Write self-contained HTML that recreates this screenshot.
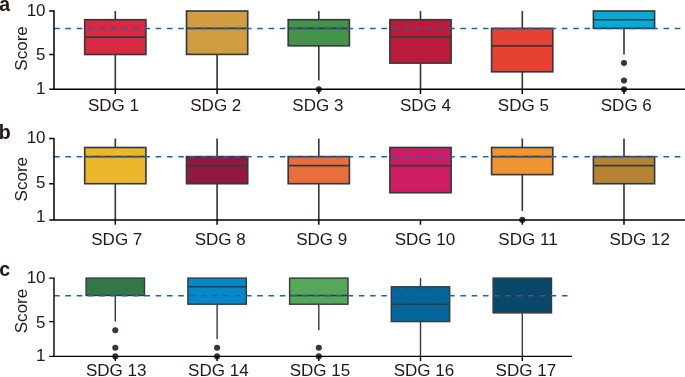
<!DOCTYPE html>
<html><head><meta charset="utf-8"><title>SDG scores</title>
<style>html,body{margin:0;padding:0;background:#fff}svg{display:block}text{font-family:"Liberation Sans",sans-serif;fill:#231815}.t{font-size:17.05px}.p{font-size:19.5px;font-weight:bold}.bx{stroke:#363a3e;stroke-width:var(--sw)}.ln{stroke:#363a3e;stroke-width:var(--sw);fill:none}.ax{stroke:#000;stroke-width:var(--aw);fill:none}.d{stroke:#2060b0;stroke-width:1.6;stroke-dasharray:5.6 5.685;fill:none}.o{fill:#33383d}</style></head><body>
<svg width="685" height="377" viewBox="0 0 685 377">
<rect width="685" height="377" fill="#fff"/>
<g style="--sw:1.65;--aw:1.5">
<text class="p" x="-0.7" y="10.9">a</text>
<line class="ln" x1="115.3" x2="115.3" y1="54.4" y2="89.2"/>
<line class="ln" x1="115.3" x2="115.3" y1="19.7" y2="11.0"/>
<rect class="bx" x="84.7" y="19.7" width="61.2" height="34.8" fill="#d92841"/>
<line class="ln" x1="84.7" x2="146.0" y1="37.1" y2="37.1"/>
<line class="ln" x1="217.1" x2="217.1" y1="54.4" y2="89.2"/>
<rect class="bx" x="186.5" y="11.0" width="61.2" height="43.4" fill="#d09e40"/>
<line class="ln" x1="186.5" x2="247.7" y1="28.4" y2="28.4"/>
<line class="ln" x1="318.8" x2="318.8" y1="45.8" y2="80.5"/>
<line class="ln" x1="318.8" x2="318.8" y1="19.7" y2="11.0"/>
<rect class="bx" x="288.2" y="19.7" width="61.2" height="26.1" fill="#449348"/>
<line class="ln" x1="288.2" x2="349.4" y1="28.4" y2="28.4"/>
<line class="ln" x1="420.5" x2="420.5" y1="63.1" y2="89.2"/>
<line class="ln" x1="420.5" x2="420.5" y1="19.7" y2="11.0"/>
<rect class="bx" x="389.9" y="19.7" width="61.2" height="43.4" fill="#bb1b38"/>
<line class="ln" x1="389.9" x2="451.2" y1="37.1" y2="37.1"/>
<line class="ln" x1="522.3" x2="522.3" y1="71.8" y2="89.2"/>
<line class="ln" x1="522.3" x2="522.3" y1="28.4" y2="11.0"/>
<rect class="bx" x="491.6" y="28.4" width="61.2" height="43.4" fill="#e84033"/>
<line class="ln" x1="491.6" x2="552.9" y1="45.8" y2="45.8"/>
<line class="ln" x1="624.0" x2="624.0" y1="28.4" y2="54.4"/>
<rect class="bx" x="593.4" y="11.0" width="61.2" height="17.4" fill="#00abd6"/>
<line class="ln" x1="593.4" x2="654.6" y1="19.7" y2="19.7"/>
<line class="d" x1="54.1" x2="685.0" y1="28.53" y2="28.53"/>
<circle class="o" cx="318.8" cy="89.2" r="3.05"/>
<circle class="o" cx="624.0" cy="63.1" r="3.05"/>
<circle class="o" cx="624.0" cy="80.5" r="3.05"/>
<circle class="o" cx="624.0" cy="89.2" r="3.05"/>
<path class="ax" d="M49.2 11.0H54V89.2H685.0M49.2 54.4H54M49.2 89.2H54.6"/>
<line class="ax" x1="115.3" x2="115.3" y1="89.2" y2="94.0"/>
<line class="ax" x1="217.1" x2="217.1" y1="89.2" y2="94.0"/>
<line class="ax" x1="318.8" x2="318.8" y1="89.2" y2="94.0"/>
<line class="ax" x1="420.5" x2="420.5" y1="89.2" y2="94.0"/>
<line class="ax" x1="522.3" x2="522.3" y1="89.2" y2="94.0"/>
<line class="ax" x1="624.0" x2="624.0" y1="89.2" y2="94.0"/>
<text class="t" x="45.6" y="15.6" text-anchor="end">10</text>
<text class="t" x="45.6" y="60.1" text-anchor="end">5</text>
<text class="t" x="45.6" y="93.6" text-anchor="end">1</text>
<text class="t" transform="translate(27.0 48.4) rotate(-90)" text-anchor="middle">Score</text>
<text class="t" x="113.5" y="110.9" text-anchor="middle">SDG 1</text>
<text class="t" x="215.8" y="110.9" text-anchor="middle">SDG 2</text>
<text class="t" x="317.9" y="110.9" text-anchor="middle">SDG 3</text>
<text class="t" x="425.5" y="110.9" text-anchor="middle">SDG 4</text>
<text class="t" x="523.4" y="110.9" text-anchor="middle">SDG 5</text>
<text class="t" x="626.3" y="110.9" text-anchor="middle">SDG 6</text>
</g>
<g style="--sw:1.65;--aw:1.5">
<text class="p" x="-1.3" y="138.5">b</text>
<line class="ln" x1="115.3" x2="115.3" y1="183.7" y2="219.9"/>
<line class="ln" x1="115.3" x2="115.3" y1="147.5" y2="138.5"/>
<rect class="bx" x="84.7" y="147.5" width="61.2" height="36.2" fill="#ecb82b"/>
<line class="ln" x1="84.7" x2="146.0" y1="156.6" y2="156.6"/>
<line class="ln" x1="217.1" x2="217.1" y1="183.7" y2="219.9"/>
<line class="ln" x1="217.1" x2="217.1" y1="156.6" y2="138.5"/>
<rect class="bx" x="186.5" y="156.6" width="61.2" height="27.1" fill="#921842"/>
<line class="ln" x1="186.5" x2="247.7" y1="165.6" y2="165.6"/>
<line class="ln" x1="318.8" x2="318.8" y1="183.7" y2="219.9"/>
<line class="ln" x1="318.8" x2="318.8" y1="156.6" y2="138.5"/>
<rect class="bx" x="288.2" y="156.6" width="61.2" height="27.1" fill="#ea6e3a"/>
<line class="ln" x1="288.2" x2="349.4" y1="165.6" y2="165.6"/>
<rect class="bx" x="389.9" y="147.5" width="61.2" height="45.2" fill="#ce1c63"/>
<line class="ln" x1="389.9" x2="451.2" y1="165.6" y2="165.6"/>
<line class="ln" x1="522.3" x2="522.3" y1="174.7" y2="210.9"/>
<line class="ln" x1="522.3" x2="522.3" y1="147.5" y2="138.5"/>
<rect class="bx" x="491.6" y="147.5" width="61.2" height="27.1" fill="#ee9430"/>
<line class="ln" x1="491.6" x2="552.9" y1="156.6" y2="156.6"/>
<line class="ln" x1="624.0" x2="624.0" y1="183.7" y2="219.9"/>
<line class="ln" x1="624.0" x2="624.0" y1="156.6" y2="138.5"/>
<rect class="bx" x="593.4" y="156.6" width="61.2" height="27.1" fill="#b48434"/>
<line class="ln" x1="593.4" x2="654.6" y1="165.6" y2="165.6"/>
<line class="d" x1="54.1" x2="685.0" y1="156.74" y2="156.74"/>
<circle class="o" cx="522.3" cy="219.9" r="3.05"/>
<path class="ax" d="M49.2 138.5H54V219.9H685.0M49.2 183.7H54M49.2 219.9H54.6"/>
<line class="ax" x1="115.3" x2="115.3" y1="219.9" y2="224.7"/>
<line class="ax" x1="217.1" x2="217.1" y1="219.9" y2="224.7"/>
<line class="ax" x1="318.8" x2="318.8" y1="219.9" y2="224.7"/>
<line class="ax" x1="420.5" x2="420.5" y1="219.9" y2="224.7"/>
<line class="ax" x1="522.3" x2="522.3" y1="219.9" y2="224.7"/>
<line class="ax" x1="624.0" x2="624.0" y1="219.9" y2="224.7"/>
<text class="t" x="45.6" y="143.0" text-anchor="end">10</text>
<text class="t" x="45.6" y="187.6" text-anchor="end">5</text>
<text class="t" x="45.6" y="222.2" text-anchor="end">1</text>
<text class="t" transform="translate(26.6 179.2) rotate(-90)" text-anchor="middle">Score</text>
<text class="t" x="116.8" y="244.9" text-anchor="middle">SDG 7</text>
<text class="t" x="220.2" y="244.9" text-anchor="middle">SDG 8</text>
<text class="t" x="321.7" y="244.9" text-anchor="middle">SDG 9</text>
<text class="t" x="425.0" y="244.9" text-anchor="middle">SDG 10</text>
<text class="t" x="528.0" y="244.9" text-anchor="middle">SDG 11</text>
<text class="t" x="639.7" y="244.9" text-anchor="middle">SDG 12</text>
</g>
<g style="--sw:1.4;--aw:1.4">
<text class="p" x="-0.7" y="275.8">c</text>
<line class="ln" x1="115.3" x2="115.3" y1="295.5" y2="321.6"/>
<rect class="bx" x="86.1" y="278.1" width="58.4" height="17.4" fill="#337846"/>
<line class="ln" x1="217.1" x2="217.1" y1="304.2" y2="339.0"/>
<rect class="bx" x="187.9" y="278.1" width="58.4" height="26.1" fill="#0488ca"/>
<line class="ln" x1="187.9" x2="246.3" y1="286.8" y2="286.8"/>
<line class="ln" x1="318.8" x2="318.8" y1="304.2" y2="330.3"/>
<rect class="bx" x="289.6" y="278.1" width="58.4" height="26.1" fill="#54a858"/>
<line class="ln" x1="289.6" x2="348.0" y1="295.5" y2="295.5"/>
<line class="ln" x1="420.5" x2="420.5" y1="321.6" y2="356.4"/>
<line class="ln" x1="420.5" x2="420.5" y1="286.8" y2="278.1"/>
<rect class="bx" x="391.3" y="286.8" width="58.4" height="34.8" fill="#036598"/>
<line class="ln" x1="391.3" x2="449.7" y1="304.2" y2="304.2"/>
<line class="ln" x1="522.3" x2="522.3" y1="312.9" y2="356.4"/>
<rect class="bx" x="493.1" y="278.1" width="58.4" height="34.8" fill="#0a4869"/>
<line class="ln" x1="493.1" x2="551.5" y1="295.5" y2="295.5"/>
<line class="d" x1="54.1" x2="568.2" y1="295.68" y2="295.68"/>
<circle class="o" cx="115.3" cy="330.3" r="3.05"/>
<circle class="o" cx="115.3" cy="347.7" r="3.05"/>
<circle class="o" cx="115.3" cy="356.4" r="3.05"/>
<circle class="o" cx="217.1" cy="347.7" r="3.05"/>
<circle class="o" cx="217.1" cy="356.4" r="3.05"/>
<circle class="o" cx="318.8" cy="347.7" r="3.05"/>
<circle class="o" cx="318.8" cy="356.4" r="3.05"/>
<path class="ax" d="M49.2 278.1H54V356.4H572.0M49.2 321.6H54M49.2 356.4H54.6"/>
<line class="ax" x1="115.3" x2="115.3" y1="356.4" y2="361.1"/>
<line class="ax" x1="217.1" x2="217.1" y1="356.4" y2="361.1"/>
<line class="ax" x1="318.8" x2="318.8" y1="356.4" y2="361.1"/>
<line class="ax" x1="420.5" x2="420.5" y1="356.4" y2="361.1"/>
<line class="ax" x1="522.3" x2="522.3" y1="356.4" y2="361.1"/>
<text class="t" x="45.6" y="282.8" text-anchor="end">10</text>
<text class="t" x="45.6" y="327.7" text-anchor="end">5</text>
<text class="t" x="45.6" y="360.6" text-anchor="end">1</text>
<text class="t" transform="translate(26.8 311.0) rotate(-90)" text-anchor="middle">Score</text>
<text class="t" x="116.2" y="376.0" text-anchor="middle">SDG 13</text>
<text class="t" x="218.4" y="376.0" text-anchor="middle">SDG 14</text>
<text class="t" x="320.0" y="376.0" text-anchor="middle">SDG 15</text>
<text class="t" x="424.0" y="376.0" text-anchor="middle">SDG 16</text>
<text class="t" x="525.9" y="376.0" text-anchor="middle">SDG 17</text>
</g>
</svg></body></html>
